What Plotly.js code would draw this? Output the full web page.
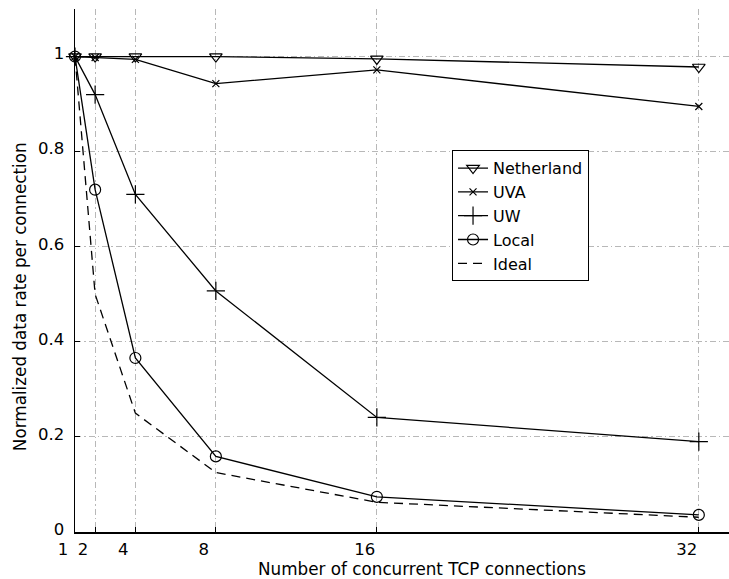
<!DOCTYPE html>
<html>
<head>
<meta charset="utf-8">
<script src="https://cdn.plot.ly/plotly-3.0.1.min.js"></script>
<style>html,body{margin:0;padding:0;background:#fff;}#chart{width:729px;height:579px;}</style>
</head>
<body>
<div id="chart"></div>
<script>
const connections = [1, 2, 4, 8, 16, 32];
const netherland = [1.0, 1.0, 1.0, 1.0, 0.995, 0.978];
const uva = [1.0, 0.998, 0.994, 0.943, 0.972, 0.895];
const uw = [1.0, 0.92, 0.71, 0.507, 0.241, 0.19];
const local = [1.0, 0.72, 0.366, 0.159, 0.074, 0.036];
const ideal = [1.0, 0.5, 0.25, 0.125, 0.0625, 0.031];
const xTicks = [1, 2, 4, 8, 16, 32];
const yTicks = [0, 0.2, 0.4, 0.6, 0.8, 1];
const xTitle = 'Number of concurrent TCP connections';
const yTitle = 'Normalized data rate per connection';

const FONT = 'DejaVu Sans';
function mk(name, y, symbol, size, dash) {
  const t = {
    x: connections, y: y, name: name, type: 'scatter',
    mode: symbol ? 'lines+markers' : 'lines',
    line: {color: '#000', width: 1.3},
    cliponaxis: false
  };
  if (dash) t.line.dash = '9px,6px';
  if (symbol) t.marker = {symbol: symbol, size: size, color: '#000', line: {color: '#000', width: 1.2}};
  return t;
}
const traces = [
  mk('Netherland', netherland, 'triangle-down-open', 11),
  mk('UVA', uva, 'x-thin-open', 7),
  mk('UW', uw, 'cross-thin-open', 13),
  mk('Local', local, 'circle-open', 11),
  mk('Ideal', ideal, null, 0, true)
];
const grid = {showgrid: true, gridcolor: '#b8b8b8', gridwidth: 1, griddash: '6px,3px,1.5px,3px'};
const layout = {
  width: 729, height: 579,
  margin: {l: 75, r: 0, t: 9, b: 47},
  paper_bgcolor: '#fff', plot_bgcolor: '#fff',
  font: {family: FONT, size: 17, color: '#000'},
  showlegend: true,
  legend: {
    x: 0.5765, y: 0.73, xanchor: 'left', yanchor: 'top',
    bgcolor: '#fff', bordercolor: '#000', borderwidth: 1,
    font: {family: FONT, size: 16, color: '#000'},
    itemwidth: 30, tracegroupgap: 0
  },
  xaxis: Object.assign({
    range: [1, 33.5], tickvals: xTicks, ticktext: xTicks.map(String),
    showline: true, linecolor: '#000', linewidth: 1.5, zeroline: false,
    ticks: 'inside', ticklen: 5, tickcolor: '#000', tickwidth: 1,
    ticklabelshift: -12, ticklabelstandoff: 2,
    tickfont: {family: FONT, size: 16.5}
  }, grid),
  yaxis: Object.assign({
    range: [0, 1.1], tickvals: yTicks, ticktext: ['0', '0.2', '0.4', '0.6', '0.8', '1'],
    showline: true, linecolor: '#000', linewidth: 1.5, zeroline: false,
    ticks: 'inside', ticklen: 5, tickcolor: '#000', tickwidth: 1,
    ticklabelstandoff: 6, ticklabelshift: -3,
    tickfont: {family: FONT, size: 16.5}
  }, grid),
  annotations: [
    {text: xTitle, xref: 'paper', yref: 'paper', x: 0.5306, y: -0.0707, xanchor: 'center', yanchor: 'middle', showarrow: false, font: {family: FONT, size: 16.8}},
    {text: yTitle, xref: 'paper', yref: 'paper', x: -0.0841, y: 0.451, xanchor: 'center', yanchor: 'middle', textangle: -90, showarrow: false, font: {family: FONT, size: 16.8}}
  ]
};
Plotly.newPlot('chart', traces, layout, {displayModeBar: false, staticPlot: true});
</script>
</body>
</html>
